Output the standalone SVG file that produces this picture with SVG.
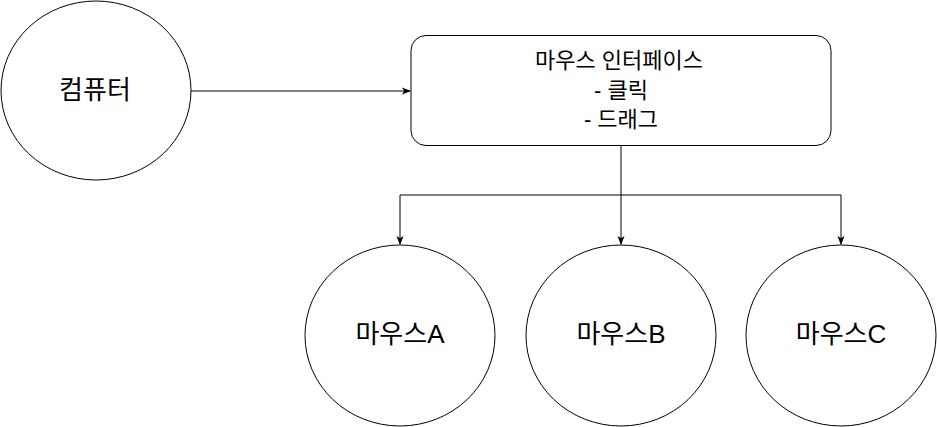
<svg xmlns="http://www.w3.org/2000/svg" width="937" height="427" viewBox="0 0 937 427">
<style>
.s{fill:#fff;stroke:#000;stroke-width:1}
.c{fill:none;stroke:#000;stroke-width:1}
text{font-family:"Liberation Sans","Noto Sans CJK KR",sans-serif;fill:#000;text-anchor:middle;dominant-baseline:central}
.big{font-size:26px}
.mid{font-size:22px}
</style>
<defs>
<marker id="a" viewBox="0 0 10 10" refX="9" refY="5" markerWidth="9" markerHeight="9" markerUnits="userSpaceOnUse" orient="auto">
<path d="M0,1 L10,5 L0,9 L2.5,5 Z" fill="#000"/>
</marker>
</defs>
<g id="connectors">
<path class="c" d="M190,91 L410,91" marker-end="url(#a)"/>
<path class="c" d="M621,146 L621,244" marker-end="url(#a)"/>
<path class="c" d="M621,195 L400,195 L400,244" marker-end="url(#a)"/>
<path class="c" d="M621,195 L841,195 L841,244" marker-end="url(#a)"/>
</g>
<g id="computer">
<ellipse class="s" cx="96" cy="90.5" rx="95" ry="89.5"/>
<text class="big" x="95" y="90">컴퓨터</text>
</g>
<g id="interface">
<rect class="s" x="411" y="35.5" width="420" height="110" rx="15" ry="15"/>
<text class="mid" x="619" y="60">마우스 인터페이스</text>
<text class="mid" x="621" y="90">- 클릭</text>
<text class="mid" x="621" y="119">- 드래그</text>
</g>
<g id="mouseA">
<ellipse class="s" cx="400" cy="335.5" rx="95" ry="90.5"/>
<text class="big" x="400" y="334">마우스A</text>
</g>
<g id="mouseB">
<ellipse class="s" cx="621" cy="335.5" rx="95" ry="90.5"/>
<text class="big" x="621" y="334">마우스B</text>
</g>
<g id="mouseC">
<ellipse class="s" cx="841" cy="335.5" rx="95" ry="90.5"/>
<text class="big" x="841" y="334">마우스C</text>
</g>
</svg>
